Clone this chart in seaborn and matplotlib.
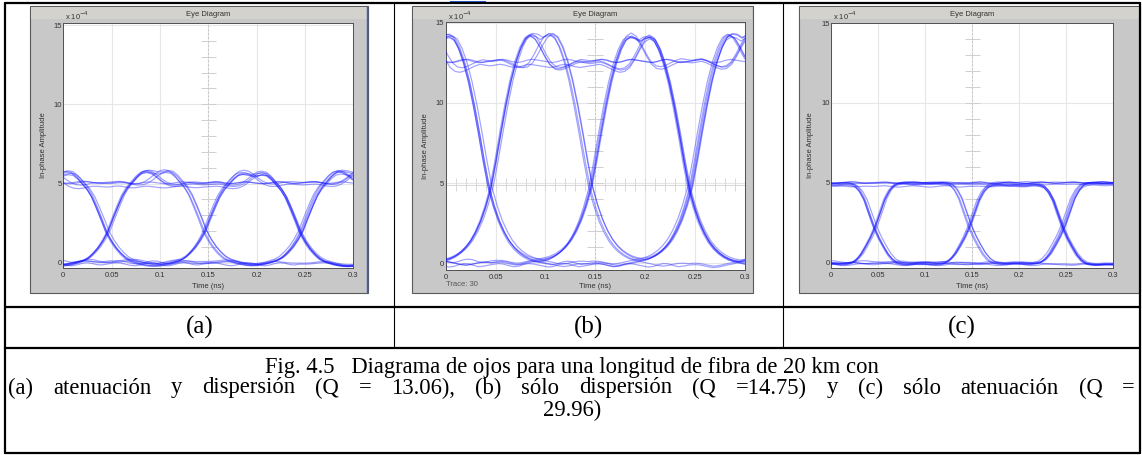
import numpy as np
import pandas as pd
import matplotlib
matplotlib.use("Agg")
import matplotlib.pyplot as plt
from matplotlib.patches import Rectangle
from matplotlib.lines import Line2D
import seaborn as sns

sns.set_theme(style="white")
plt.rcParams['font.family'] = ['Liberation Sans', 'DejaVu Sans']

# ---------------- data ----------------
# time offsets inside one bit slot (crossing -> next crossing), ns
slot_offsets = [0.000, 0.005, 0.010, 0.015, 0.020, 0.025, 0.030, 0.035, 0.040, 0.045, 0.050,
                0.055, 0.060, 0.065, 0.070, 0.075, 0.080, 0.085, 0.090, 0.095, 0.100]
bit_period = 0.1

# panel (a): attenuation + dispersion, amplitude x1e-4, shape of one slot per (prev,cur,next) bits
a_000 = [0.0, 0.05, 0.10, 0.08, 0.0, -0.07, -0.10, -0.05, 0.04, 0.10, 0.08, 0.0, -0.08, -0.10, -0.04, 0.05, 0.10, 0.06, -0.02, -0.05, 0.0]
a_001 = [0.0, 0.0, 0.01, 0.04, 0.08, 0.10, 0.08, 0.02, -0.05, -0.12, -0.15, -0.14, -0.10, -0.04, 0.05, 0.15, 0.32, 0.60, 0.95, 1.40, 1.96]
a_010 = [1.96, 2.75, 3.50, 4.20, 4.70, 5.05, 5.40, 5.65, 5.72, 5.68, 5.60, 5.62, 5.70, 5.65, 5.40, 5.05, 4.70, 4.20, 3.50, 2.75, 1.96]
a_011 = [1.96, 2.75, 3.50, 4.20, 4.70, 5.05, 5.40, 5.65, 5.72, 5.65, 5.45, 5.20, 5.00, 4.88, 4.85, 4.88, 4.95, 5.00, 5.00, 4.97, 4.95]
a_100 = [1.96, 1.40, 0.95, 0.60, 0.32, 0.15, 0.05, -0.04, -0.10, -0.14, -0.15, -0.12, -0.05, 0.02, 0.08, 0.10, 0.08, 0.04, 0.01, 0.0, 0.0]
a_101 = [1.96, 1.40, 0.95, 0.60, 0.32, 0.15, 0.05, -0.04, -0.10, -0.14, -0.15, -0.14, -0.10, -0.04, 0.05, 0.15, 0.32, 0.60, 0.95, 1.40, 1.96]
a_110 = [4.95, 4.97, 5.00, 5.00, 4.95, 4.88, 4.85, 4.88, 5.00, 5.20, 5.45, 5.65, 5.72, 5.65, 5.40, 5.05, 4.70, 4.20, 3.50, 2.75, 1.96]
a_111 = [4.95, 4.98, 5.02, 5.00, 4.94, 4.90, 4.92, 4.97, 5.01, 4.99, 4.95, 4.91, 4.90, 4.93, 4.98, 5.02, 5.00, 4.95, 4.91, 4.92, 4.95]
a_first_crossing = 0.046

# panel (b): dispersion only
b_000 = [0.0, 0.06, 0.10, 0.06, -0.03, -0.10, -0.06, 0.04, 0.10, 0.07, 0.0, -0.06, -0.12, -0.08, 0.03, 0.10, 0.08, -0.02, -0.10, -0.06, 0.0]
b_001 = [0.0, 0.03, 0.02, -0.03, -0.10, -0.15, -0.12, -0.05, 0.02, 0.08, 0.15, 0.22, 0.32, 0.48, 0.70, 1.00, 1.40, 1.95, 2.65, 3.55, 4.67]
b_010 = [4.67, 6.30, 8.10, 9.80, 11.30, 12.50, 13.40, 14.00, 14.20, 14.15, 13.95, 14.15, 14.20, 14.00, 13.40, 12.50, 11.30, 9.80, 8.10, 6.30, 4.67]
b_011 = [4.67, 6.30, 8.10, 9.80, 11.30, 12.50, 13.40, 14.00, 14.20, 14.00, 13.50, 12.90, 12.40, 12.15, 12.10, 12.20, 12.35, 12.50, 12.60, 12.55, 12.50]
b_100 = [4.67, 3.55, 2.65, 1.95, 1.40, 1.00, 0.70, 0.48, 0.32, 0.22, 0.15, 0.08, 0.02, -0.05, -0.12, -0.15, -0.10, -0.03, 0.02, 0.03, 0.0]
b_101 = [4.67, 3.55, 2.65, 1.95, 1.40, 1.00, 0.70, 0.48, 0.32, 0.22, 0.17, 0.22, 0.32, 0.48, 0.70, 1.00, 1.40, 1.95, 2.65, 3.55, 4.67]
b_110 = [12.50, 12.55, 12.60, 12.50, 12.35, 12.20, 12.10, 12.15, 12.40, 12.90, 13.50, 14.00, 14.20, 14.00, 13.40, 12.50, 11.30, 9.80, 8.10, 6.30, 4.67]
b_111 = [12.50, 12.55, 12.60, 12.55, 12.45, 12.40, 12.45, 12.55, 12.60, 12.55, 12.50, 12.45, 12.40, 12.45, 12.55, 12.60, 12.55, 12.45, 12.40, 12.45, 12.50]
b_first_crossing = 0.045

# panel (c): attenuation only
c_000 = [-0.05, -0.02, 0.02, 0.03, 0.0, -0.05, -0.09, -0.10, -0.06, -0.01, 0.02, 0.01, -0.04, -0.09, -0.10, -0.07, -0.02, 0.02, 0.01, -0.03, -0.05]
c_001 = [-0.05, -0.06, -0.08, -0.07, -0.03, 0.0, -0.02, -0.06, -0.09, -0.07, -0.05, -0.04, -0.06, -0.08, -0.06, 0.0, 0.20, 0.55, 1.05, 1.60, 2.27]
c_010 = [2.27, 3.10, 3.95, 4.50, 4.82, 4.92, 4.95, 4.93, 4.90, 4.90, 4.92, 4.90, 4.90, 4.93, 4.95, 4.92, 4.82, 4.50, 3.95, 3.10, 2.27]
c_011 = [2.27, 3.10, 3.95, 4.50, 4.82, 4.92, 4.95, 4.93, 4.90, 4.90, 4.92, 4.95, 4.97, 4.95, 4.92, 4.90, 4.90, 4.92, 4.94, 4.93, 4.92]
c_100 = [2.27, 1.60, 1.05, 0.55, 0.20, 0.0, -0.06, -0.08, -0.06, -0.04, -0.05, -0.07, -0.09, -0.06, -0.02, 0.0, -0.03, -0.07, -0.08, -0.06, -0.05]
c_101 = [2.27, 1.60, 1.05, 0.55, 0.20, 0.0, -0.06, -0.08, -0.06, -0.04, -0.05, -0.04, -0.06, -0.08, -0.06, 0.0, 0.20, 0.55, 1.05, 1.60, 2.27]
c_110 = [4.92, 4.93, 4.94, 4.92, 4.90, 4.90, 4.92, 4.95, 4.97, 4.95, 4.92, 4.90, 4.90, 4.93, 4.95, 4.92, 4.82, 4.50, 3.95, 3.10, 2.27]
c_111 = [4.92, 4.95, 4.97, 4.94, 4.90, 4.88, 4.90, 4.94, 4.97, 4.95, 4.92, 4.89, 4.88, 4.91, 4.95, 4.97, 4.95, 4.91, 4.88, 4.90, 4.92]
c_first_crossing = 0.047

# captured traces: bit pattern (one bit before / after the window) and small per-trace deviations
bit_patterns = ['001011', '010110', '101101', '011010', '110100', '100101', '111001', '000110', '011100',
                '101010', '110011', '001101', '100010', '010011', '111110', '000001', '101111', '010100']
trace_gain = [1.00, 0.98, 1.02, 0.99, 1.01, 0.97, 1.03, 1.00, 0.985, 1.015, 0.995, 1.005, 0.975, 1.025, 1.00, 0.99, 1.01, 0.98]
trace_offset = [0.00, 0.06, -0.05, 0.10, -0.08, 0.03, -0.02, 0.12, -0.10, 0.04, 0.08, -0.06, 0.02, -0.04, 0.09, -0.09, 0.05, -0.03]
trace_shift = [0.000, 0.0015, -0.001, 0.002, -0.002, 0.0005, -0.0015, 0.001, -0.0005, 0.0025, -0.0025, 0.0,
               0.001, -0.001, 0.0018, -0.0018, 0.0008, -0.0008]

x_ticks = [0, 0.05, 0.1, 0.15, 0.2, 0.25, 0.3]
x_tick_labels = ['0', '0.05', '0.1', '0.15', '0.2', '0.25', '0.3']
y_ticks = [0, 5, 10, 15]
y_tick_labels = ['0', '5', '10', '15']
panel_labels = ['(a)', '(b)', '(c)']
caption_lines = ['Fig. 4.5   Diagrama de ojos para una longitud de fibra de 20 km con',
                 '(a) atenuación y dispersión (Q = 13.06), (b) sólo dispersión (Q =14.75) y (c) sólo atenuación (Q =',
                 '29.96)']


def build_traces(templates, first_crossing, gain_scale, off_scale):
    rows = []
    for i, pat in enumerate(bit_patterns):
        g = 1 + (trace_gain[i] - 1) * gain_scale
        for k in range(4):
            vals = templates[pat[k:k + 3]]
            start = first_crossing + bit_period * (k - 1)
            for j, (s, v) in enumerate(zip(slot_offsets, vals)):
                if k > 0 and j == 0:
                    continue
                rows.append((start + s + trace_shift[i], v * g + trace_offset[i] * off_scale, i))
    return pd.DataFrame(rows, columns=['t', 'amp', 'trace'])


df_a = build_traces({'000': a_000, '001': a_001, '010': a_010, '011': a_011,
                     '100': a_100, '101': a_101, '110': a_110, '111': a_111}, a_first_crossing, 1.0, 1.0)
df_b = build_traces({'000': b_000, '001': b_001, '010': b_010, '011': b_011,
                     '100': b_100, '101': b_101, '110': b_110, '111': b_111}, b_first_crossing, 0.35, 1.3)
df_c = build_traces({'000': c_000, '001': c_001, '010': c_010, '011': c_011,
                     '100': c_100, '101': c_101, '110': c_110, '111': c_111}, c_first_crossing, 0.8, 0.9)

# ---------------- figure ----------------
W, H = 1142, 455
fig = plt.figure(figsize=(W / 100, H / 100), dpi=100)
fig.patch.set_facecolor('white')


def rect_px(x0, y0, x1, y1):
    return [x0 / W, 1 - y1 / H, (x1 - x0) / W, (y1 - y0) / H]


def ftext(x, y, s, **kw):
    return fig.text(x / W, 1 - y / H, s, **kw)


def fline(x0, y0, x1, y1, **kw):
    fig.add_artist(Line2D([x0 / W, x1 / W], [1 - y0 / H, 1 - y1 / H], transform=fig.transFigure, **kw))


def frect(x0, y0, x1, y1, **kw):
    fig.add_artist(Rectangle((x0 / W, 1 - y1 / H), (x1 - x0) / W, (y1 - y0) / H,
                             transform=fig.transFigure, **kw))


panels = [
    dict(df=df_a, frame=(30, 6, 368, 293), ax=(63.3, 23, 353.3, 268), ylim=(-0.33, 15.13), hcross=False, trace_txt=False),
    dict(df=df_b, frame=(412, 6, 753, 293), ax=(445.7, 21.7, 745, 270), ylim=(-0.42, 15.06), hcross=True, trace_txt=True),
    dict(df=df_c, frame=(799, 6, 1140, 293), ax=(831, 22.7, 1113.3, 268.3), ylim=(-0.35, 15.02), hcross=False, trace_txt=False),
]

small = 5.5
txt_col = '#333333'
for p in panels:
    fx0, fy0, fx1, fy1 = p['frame']
    frect(fx0, fy0, fx1, fy1, facecolor='#c8c8c8', edgecolor='#5a5a5a', lw=0.8, zorder=-5)
    frect(fx0 + 1, fy0 + 1, fx1 - 1, fy0 + 13, facecolor='#d3d2cc', edgecolor='none', zorder=-4)
    ax = fig.add_axes(rect_px(*p['ax']))
    ax.set_facecolor('white')
    ax.grid(True, color='#e6e6e6', lw=0.8)
    ax.set_axisbelow(True)
    # crosshair of the eye scope
    ax.axvline(0.15, color='#c4c4c4', lw=0.7, ls=(0, (2, 2)), zorder=1)
    ax.hlines(list(range(1, 15)), 0.142, 0.158, color='#cfcfcf', lw=0.7, zorder=1)
    if p['hcross']:
        ax.axhline(4.9, color='#d8d8d8', lw=0.7, zorder=1)
        ax.vlines([i / 100 for i in range(1, 30)], 4.5, 5.3, color='#d8d8d8', lw=0.7, zorder=1)
    sns.lineplot(data=p['df'], x='t', y='amp', units='trace', estimator=None, ax=ax,
                 color='#1414ff', alpha=0.4, lw=0.85, legend=False, zorder=3)
    ax.set_xlim(0, 0.3)
    ax.set_ylim(*p['ylim'])
    ax.set_xticks(x_ticks)
    ax.set_xticklabels(x_tick_labels)
    ax.set_yticks(y_ticks)
    ax.set_yticklabels(y_tick_labels)
    ax.tick_params(axis='both', labelsize=small, colors=txt_col, length=2, direction='in', width=0.6)
    ax.tick_params(axis='x', pad=3)
    ax.tick_params(axis='y', pad=1)
    ax.set_xlabel('')
    ax.set_ylabel('')
    for sp in ax.spines.values():
        sp.set_color('#505050')
        sp.set_linewidth(0.7)
    x0, y0, x1, y1 = p['ax']
    cx = (x0 + x1) / 2
    ftext(cx, 14, 'Eye Diagram', ha='center', va='center', fontsize=small, color=txt_col)
    ftext(cx, 286, 'Time (ns)', ha='center', va='center', fontsize=small, color=txt_col)
    ftext(x0 - 20, (y0 + y1) / 2, 'In-phase Amplitude', ha='center', va='center', rotation=90,
          fontsize=small, color=txt_col)
    ftext(x0 + 2, 16, r'x 10$^{-4}$', ha='left', va='center', fontsize=small, color=txt_col)
    if p['trace_txt']:
        ftext(x0, 285, 'Trace: 30', ha='left', va='center', fontsize=small, color='#555555')

# screenshot artefacts
fline(367, 6, 367, 293, color='#3b5bd0', lw=1.0)
frect(450, 0.5, 486, 3, facecolor='#2f5fd0', edgecolor='none', zorder=6)

# table borders
thick, thin = 1.6, 0.8
fline(5, 2.5, 1140, 2.5, color='black', lw=thick, zorder=7)
fline(5, 452.5, 1140, 452.5, color='black', lw=thick, zorder=7)
fline(5, 2.5, 5, 452.5, color='black', lw=thick, zorder=7)
fline(1140, 2.5, 1140, 452.5, color='black', lw=thick, zorder=7)
fline(5, 307, 1140, 307, color='black', lw=thick, zorder=7)
fline(5, 348, 1140, 348, color='black', lw=thick, zorder=7)
fline(394, 2.5, 394, 348, color='black', lw=thin, zorder=7)
fline(783, 2.5, 783, 348, color='black', lw=thin, zorder=7)

serif = ['Liberation Serif', 'DejaVu Serif']
cap_fs = 16.3
col_centers = [(5 + 394) / 2, (394 + 783) / 2, (783 + 1140) / 2]
for cxp, lab in zip(col_centers, panel_labels):
    ftext(cxp, 327, lab, ha='center', va='center', fontsize=18, family=serif, color='black')

# line 1 and 3 centred, line 2 justified across the cell
ftext(572, 367, caption_lines[0], ha='center', va='center', fontsize=cap_fs, family=serif, color='black')
ftext(572, 410, caption_lines[2], ha='center', va='center', fontsize=cap_fs, family=serif, color='black')
renderer = fig.canvas.get_renderer()
words = caption_lines[1].split(' ')
widths = []
for w in words:
    tt = ftext(0, 0, w, fontsize=cap_fs, family=serif)
    widths.append(tt.get_window_extent(renderer=renderer).width)
    tt.remove()
left_px, right_px = 8, 1135
gap = (right_px - left_px - sum(widths)) / (len(words) - 1)
xpos = left_px
for w, wd in zip(words, widths):
    ftext(xpos, 388, w, ha='left', va='center', fontsize=cap_fs, family=serif, color='black')
    xpos += wd + gap

fig.savefig('out.png', dpi=100, facecolor='white')
